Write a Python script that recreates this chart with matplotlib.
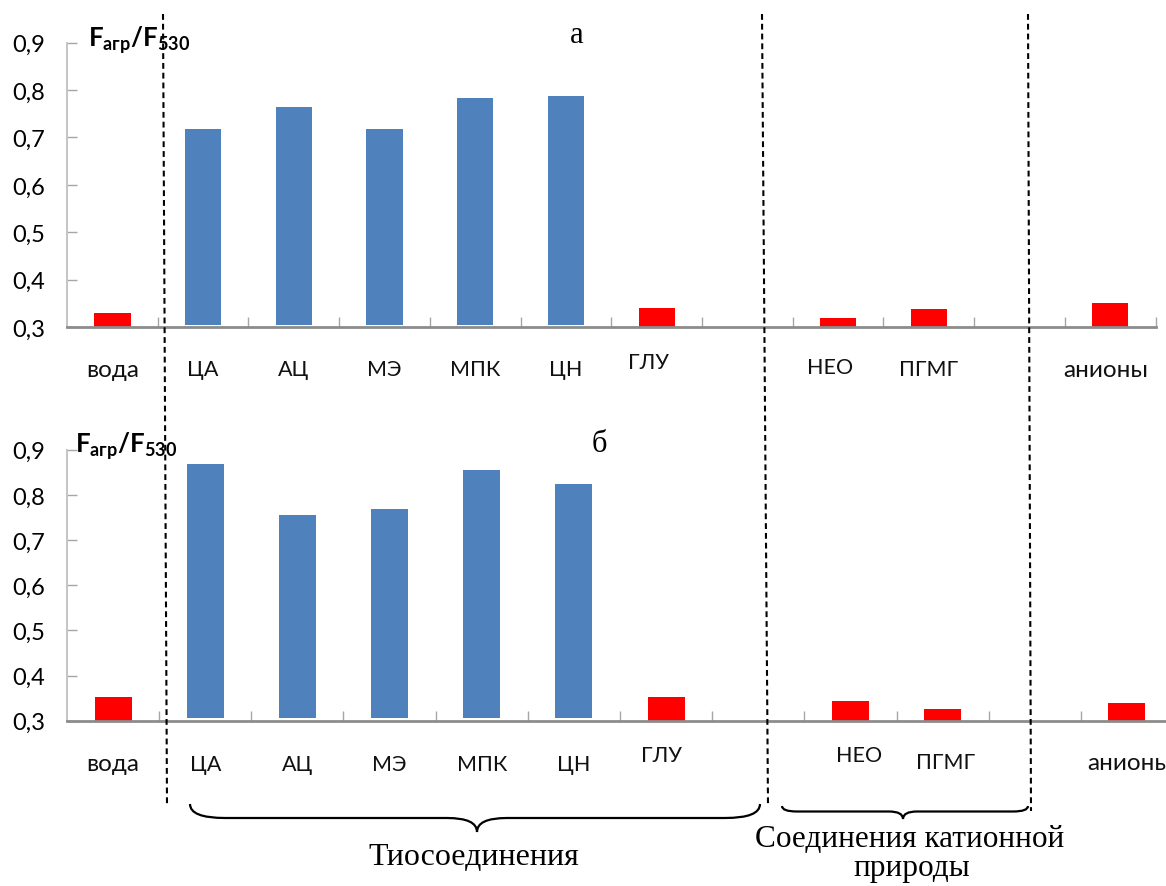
import matplotlib
matplotlib.use('Agg')
import matplotlib.pyplot as plt
from matplotlib.path import Path
from matplotlib.patches import PathPatch
from matplotlib.lines import Line2D
from matplotlib.transforms import Affine2D

plt.rcParams['font.family'] = ['Lato', 'DejaVu Sans']
plt.rcParams['mathtext.fontset'] = 'custom'
plt.rcParams['mathtext.bf'] = 'Lato:bold'
plt.rcParams['mathtext.rm'] = 'Lato'

# categories (empty strings are gaps in the original chart)
categories = ['вода', 'ЦА', 'АЦ', 'МЭ', 'МПК', 'ЦН', 'ГЛУ', '', 'НЕО', 'ПГМГ', '', 'анионы']
# which bars are blue (thio compounds) and which are red
is_thio = [False, True, True, True, True, True, False, False, False, False, False, False]

# F_agr/F_530, panel а
values_a = [0.330, 0.718, 0.764, 0.718, 0.784, 0.788, 0.341, None, 0.320, 0.337, None, 0.350]
# F_agr/F_530, panel б
values_b = [0.353, 0.868, 0.755, 0.769, 0.855, 0.824, 0.353, None, 0.344, 0.327, None, 0.340]

y_ticks = [0.3, 0.4, 0.5, 0.6, 0.7, 0.8, 0.9]
y_ticklabels = ['0,3', '0,4', '0,5', '0,6', '0,7', '0,8', '0,9']

BLUE = '#4F81BD'
RED = '#FF0000'

W, H = 1166, 887
fig = plt.figure(figsize=(W / 100, H / 100), dpi=100)
px = Affine2D().scale(1 / W, -1 / H).translate(0, 1) + fig.transFigure

ax_a = fig.add_axes([67 / W, (H - 328) / H, 1088.6 / W, 284.3 / H])
ax_b = fig.add_axes([67 / W, (H - 721.7) / H, 1106 / W, 271 / H])

# label offsets in points (the labels in the original are slightly uneven)
label_dx_a = [0, 0, 0, 0, 0, 0, -6, 0, -6, 0, 0, -3]
label_dy_a = [0, 0, 0, 0, 0, 0, 5, 0, 2, 0, 0, 0]
label_dx_b = [0, 0, 0, 0, 0, 0, -3, 0, 6, 2, 0, 2]
label_dy_b = [0, 0, 0, 0, 0, 0, 6, 0, 6, 1, 0, 1]


def draw_panel(ax, values, dxs, dys, label_off):
    for i, v in enumerate(values):
        if v is None:
            continue
        if is_thio[i]:
            ax.bar(i, v - 0.305, bottom=0.305, width=0.4, color=BLUE, zorder=2)
        else:
            ax.bar(i, v - 0.3, bottom=0.3, width=0.4, color=RED, zorder=2)
    ax.set_xlim(-0.5, len(categories) - 0.5)
    ax.set_ylim(0.3, 0.9)
    ax.set_yticks(y_ticks)
    ax.set_yticklabels(y_ticklabels, fontsize=17)
    ax.set_xticks([i + 0.5 for i in range(len(categories))])
    ax.set_xticklabels([])
    ax.tick_params(axis='y', direction='in', length=7, width=1, color='#A6A6A6', pad=16)
    ax.tick_params(axis='x', direction='in', length=7, width=1, color='#A6A6A6')
    for s in ['top', 'right']:
        ax.spines[s].set_visible(False)
    ax.spines['left'].set_color('#BFBFBF')
    ax.spines['left'].set_linewidth(1.3)
    ax.spines['bottom'].set_color('#8C8C8C')
    ax.spines['bottom'].set_linewidth(2)
    ax.spines['bottom'].set_zorder(3)
    for i, name in enumerate(categories):
        if name:
            size = 17.5 if name.islower() else 15.5
            ax.annotate(name, xy=(i, 0.3), xytext=(dxs[i], -label_off + dys[i]),
                        textcoords='offset points', ha='center', va='center',
                        fontsize=size, color='#111111', annotation_clip=False)


draw_panel(ax_a, values_a, label_dx_a, label_dy_a, 30.5)
draw_panel(ax_b, values_b, label_dx_b, label_dy_b, 31)

ylab = r'$\mathbf{F_{агр}/F_{530}}$'
fig.text(88, 47, ylab, transform=px, fontsize=18.5, ha='left', va='baseline')
fig.text(75, 453, ylab, transform=px, fontsize=18.5, ha='left', va='baseline')

fig.text(577, 43, 'а', transform=px, fontsize=22, family='Liberation Serif',
         ha='center', va='baseline')
fig.text(599, 452, 'б', transform=px, fontsize=22, family='Liberation Serif',
         ha='center', va='baseline')

# dashed separators
for xt, xb, yb in [(163, 167, 806), (762, 768, 806), (1028, 1031, 812)]:
    fig.add_artist(Line2D([xt, xb], [15, yb], transform=px, color='black',
                          lw=1.5, linestyle=(0, (2.8, 1.9))))


def brace(x0, x1, xc, ytop, ymid, ytip, r_end, r_tip):
    verts = [(x0, ytop), (x0, ymid), (x0 + r_end, ymid),
             (xc - r_tip, ymid),
             (xc, ymid), (xc, ytip),
             (xc, ymid), (xc + r_tip, ymid),
             (x1 - r_end, ymid),
             (x1, ymid), (x1, ytop)]
    codes = [Path.MOVETO, Path.CURVE3, Path.CURVE3, Path.LINETO,
             Path.CURVE3, Path.CURVE3, Path.CURVE3, Path.CURVE3,
             Path.LINETO, Path.CURVE3, Path.CURVE3]
    fig.add_artist(PathPatch(Path(verts, codes), transform=px, fill=False,
                             lw=1.6, edgecolor='black'))


brace(190, 760, 477, 805, 819, 833, 35, 30)
brace(782, 1028, 903, 807, 812.5, 820, 15, 14)

fig.text(474, 865, 'Тиосоединения', transform=px, fontsize=23,
         family='Liberation Serif', ha='center', va='baseline')
fig.text(910, 847, 'Соединения катионной', transform=px, fontsize=22.5,
         family='Liberation Serif', ha='center', va='baseline')
fig.text(912, 876, 'природы', transform=px, fontsize=22.5,
         family='Liberation Serif', ha='center', va='baseline')

fig.savefig('out.png', dpi=100)
